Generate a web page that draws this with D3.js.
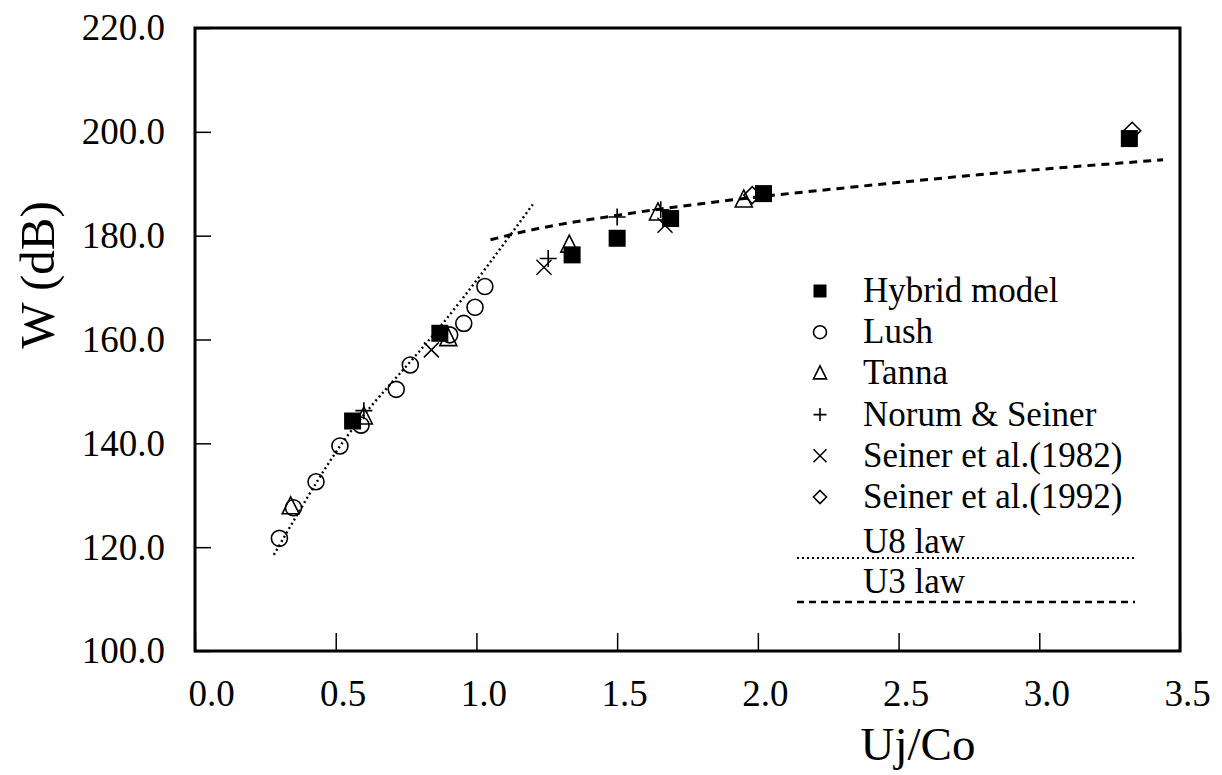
<!DOCTYPE html>
<html>
<head>
<meta charset="utf-8">
<script src="https://cdn.jsdelivr.net/npm/d3@7"></script>
<style>
 body{margin:0;background:#fff;}
 svg{display:block;font-family:"Liberation Serif","Times New Roman",serif;}
</style>
</head>
<body>
<svg id="chart" width="1222" height="775"></svg>
<script>
// values: [Uj/Co, W (dB)]
const hybrid=[[0.56,144.3],[0.87,161.2],[1.34,176.3],[1.50,179.5],[1.69,183.3],[2.02,188.1],[3.32,198.7]];
const lush=[[0.30,121.7],[0.35,127.6],[0.43,132.6],[0.515,139.5],[0.59,143.5],[0.715,150.4],[0.765,155.1],[0.905,160.9],[0.955,163.1],[0.995,166.2],[1.03,170.2]];
const tanna=[[0.34,127.8],[0.60,145.1],[0.90,160.2],[1.33,178.2],[1.645,184.4],[1.95,186.9]];
const norum=[[0.60,146.3],[1.255,175.6],[1.50,183.6],[1.655,185.0]];
const seiner82=[[0.84,158.0],[1.24,173.9],[1.67,182.0]];
const seiner92=[[1.98,187.8],[3.33,200.2]];
const u8law=[[0.28,118.5],[0.43,132.3],[0.60,145.5],[0.87,162.4],[1.20,186.0]];
const u3law=[[1.05,179.2],[1.17,180.8],[1.51,184.0],[1.91,186.9],[2.29,189.1],[2.86,192.1],[3.44,194.6]];
const xTicks=[0,0.5,1,1.5,2,2.5,3,3.5];
const yTicks=[100,120,140,160,180,200,220];
const legendItems=["Hybrid model","Lush","Tanna","Norum & Seiner","Seiner et al.(1982)","Seiner et al.(1992)"];

const svg=d3.select("#chart");
const x=d3.scaleLinear([0,3.5],[195,1180]);
const y=d3.scaleLinear([100,220],[651,28]);

// marker painters: (selection, size)
const marker={
 square(g,s){g.append("rect").attr("x",-s/2).attr("y",-s/2).attr("width",s).attr("height",s).attr("fill","#000");},
 circle(g,s){g.append("circle").attr("r",s/2).attr("fill","none").attr("stroke","#000").attr("stroke-width",1.6);},
 triangle(g,s){g.append("path").attr("d",`M0,${-s*0.58}L${s/2},${s*0.42}L${-s/2},${s*0.42}Z`).attr("fill","none").attr("stroke","#000").attr("stroke-width",1.6);},
 plus(g,s){g.append("path").attr("d",`M${-s/2},0H${s/2}M0,${-s/2}V${s/2}`).attr("stroke","#000").attr("stroke-width",1.6);},
 times(g,s){const h=s/2;g.append("path").attr("d",`M${-h},${-h}L${h},${h}M${-h},${h}L${h},${-h}`).attr("stroke","#000").attr("stroke-width",1.5);},
 diamond(g,s){const h=s/2;g.append("path").attr("d",`M0,${-h}L${h},0L0,${h}L${-h},0Z`).attr("fill","none").attr("stroke","#000").attr("stroke-width",1.6);}
};
const series=[[hybrid,"square",17],[lush,"circle",16],[tanna,"triangle",17],[norum,"plus",17],[seiner82,"times",15],[seiner92,"diamond",17]];

// axes
const xAxis=svg.append("g").attr("transform",`translate(0,${y(100)})`)
 .call(d3.axisBottom(x).tickValues(xTicks).tickSize(-18).tickPadding(29).tickFormat(d3.format(".1f")));
xAxis.selectAll("text").attr("dx",d=>d===0?16:7).attr("font-size",37).attr("font-family","Liberation Serif").attr("fill","#000");
const yAxis=svg.append("g").attr("transform",`translate(${x(0)},0)`)
 .call(d3.axisLeft(y).tickValues(yTicks).tickSize(-16).tickPadding(30).tickFormat(d3.format(".1f")));
yAxis.selectAll("text").attr("font-size",37).attr("font-family","Liberation Serif").attr("fill","#000");
svg.selectAll(".domain").remove();
svg.selectAll(".tick line").attr("stroke","#000").attr("stroke-width",1.5);

// frame
svg.append("rect").attr("x",x(0)).attr("y",y(220)).attr("width",x(3.5)-x(0)).attr("height",y(100)-y(220))
 .attr("fill","none").attr("stroke","#000").attr("stroke-width",3);

// titles
svg.append("text").attr("x",918).attr("y",760).attr("text-anchor","middle").attr("font-size",47).text("Uj/Co");
svg.append("text").attr("transform","translate(54,275) rotate(-90)").attr("text-anchor","middle").attr("font-size",49).text("W (dB)");

// law lines
svg.append("path").datum(u8law).attr("d",d3.line().x(d=>x(d[0])).y(d=>y(d[1])).curve(d3.curveNatural))
 .attr("fill","none").attr("stroke","#000").attr("stroke-width",2.4).attr("stroke-dasharray","2 3");
svg.append("path").datum(u3law).attr("d",d3.line().x(d=>x(d[0])).y(d=>y(d[1])).curve(d3.curveMonotoneX))
 .attr("fill","none").attr("stroke","#000").attr("stroke-width",3).attr("stroke-dasharray","8 6");

// data markers
series.forEach(([data,kind,size])=>{
 svg.append("g").selectAll("g").data(data).join("g")
 .attr("transform",d=>`translate(${x(d[0])},${y(d[1])})`)
 .each(function(){marker[kind](d3.select(this),size);});
});

// legend
const legend=svg.append("g").attr("font-size",35);
legendItems.forEach((label,i)=>{
 const base=302+i*41.2;
 const g=legend.append("g").attr("transform",`translate(820,${base-11})`);
 marker[series[i][1]](g,13);
 legend.append("text").attr("x",863).attr("y",base).text(label);
});
legend.append("text").attr("x",863).attr("y",553).text("U8 law");
legend.append("line").attr("x1",797).attr("x2",1135).attr("y1",558).attr("y2",558).attr("stroke","#000").attr("stroke-width",2.2).attr("stroke-dasharray","2 3");
legend.append("text").attr("x",863).attr("y",593).text("U3 law");
legend.append("line").attr("x1",797).attr("x2",1135).attr("y1",602).attr("y2",602).attr("stroke","#000").attr("stroke-width",2.6).attr("stroke-dasharray","7 5");
</script>
</body>
</html>
